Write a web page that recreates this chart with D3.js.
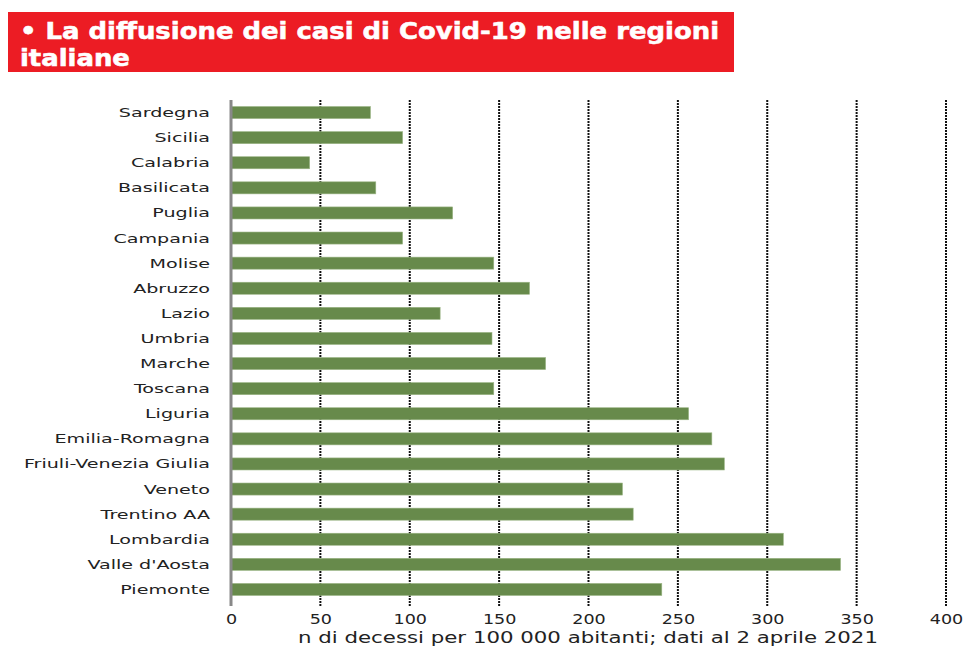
<!DOCTYPE html>
<html>
<head>
<meta charset="utf-8">
<script src="https://cdn.jsdelivr.net/npm/d3@7"></script>
<style>
  body { margin: 0; background: #fff; }
</style>
</head>
<body>
<div id="chart"></div>
<script>
// regioni, dall'alto verso il basso
var regions = ["Sardegna", "Sicilia", "Calabria", "Basilicata", "Puglia", "Campania",
    "Molise", "Abruzzo", "Lazio", "Umbria", "Marche", "Toscana", "Liguria",
    "Emilia-Romagna", "Friuli-Venezia Giulia", "Veneto", "Trentino AA",
    "Lombardia", "Valle d'Aosta", "Piemonte"];
// decessi per 100 000 abitanti
var deaths = [78, 96, 44, 81, 124, 96, 147, 167, 117, 146, 176, 147, 256,
    269, 276, 219, 225, 309, 341, 241];
var xTicks = [0, 50, 100, 150, 200, 250, 300, 350, 400];

var titleLines = ["\u2022 La diffusione dei casi di Covid-19 nelle regioni", "italiane"];
var axisTitle = "n di decessi per 100 000 abitanti; dati al 2 aprile 2021";

var width = 966, height = 650;
var labelFont = "'DejaVu Sans', Verdana, sans-serif";

var svg = d3.select("#chart").append("svg")
    .attr("width", width)
    .attr("height", height);

// title box
svg.append("rect")
    .attr("x", 8).attr("y", 12)
    .attr("width", 726).attr("height", 60)
    .attr("fill", "#ec1c24");

// the original type is a wide-set bold, so the text is stretched a bit
svg.append("g")
    .attr("transform", "translate(20,0) scale(1.28,1)")
    .selectAll("text")
    .data(titleLines)
    .enter().append("text")
    .attr("x", 0)
    .attr("y", function(d, i) { return 39 + i * 27; })
    .attr("fill", "#fff")
    .attr("stroke", "#fff")
    .attr("stroke-width", 0.5)
    .style("font-family", "'DejaVu Sans Condensed', 'DejaVu Sans', sans-serif")
    .style("font-weight", "bold")
    .style("font-size", "22.5px")
    .text(function(d) { return d; });

var x = d3.scaleLinear()
    .domain([0, 400])
    .range([231, 946]);

var y = d3.scaleBand()
    .domain(regions)
    .range([100, 602])
    .paddingInner(0.52)
    .paddingOuter(0.26);

// dotted gridlines
svg.append("g")
    .selectAll("line")
    .data(xTicks.filter(function(d) { return d > 0; }))
    .enter().append("line")
    .attr("x1", function(d) { return x(d); })
    .attr("x2", function(d) { return x(d); })
    .attr("y1", 100)
    .attr("y2", 606)
    .attr("stroke", "#111")
    .attr("stroke-width", 2)
    .attr("stroke-dasharray", "2,1");

// bars
svg.append("g")
    .selectAll("rect")
    .data(deaths)
    .enter().append("rect")
    .attr("x", x(0))
    .attr("y", function(d, i) { return y(regions[i]); })
    .attr("width", function(d) { return x(d) - x(0); })
    .attr("height", y.bandwidth())
    .attr("fill", "#678a4b")
    .attr("stroke", "#9bb585")
    .attr("stroke-width", 0.6);

// y axis line
svg.append("line")
    .attr("x1", x(0)).attr("x2", x(0))
    .attr("y1", 100).attr("y2", 606)
    .attr("stroke", "#888")
    .attr("stroke-width", 3);

// category labels
svg.append("g")
    .attr("transform", "translate(210,0) scale(1.47,1)")
    .selectAll("text")
    .data(regions)
    .enter().append("text")
    .attr("x", 0)
    .attr("y", function(d) { return y(d) + y.bandwidth() / 2; })
    .attr("dy", "0.35em")
    .attr("text-anchor", "end")
    .style("font-family", labelFont)
    .style("font-size", "13px")
    .attr("fill", "#222")
    .text(function(d) { return d; });

// x tick labels
var xAxis = d3.axisBottom(x)
    .tickValues(xTicks)
    .tickSize(0)
    .tickPadding(0);

var gx = svg.append("g")
    .attr("transform", "translate(0,614)")
    .call(xAxis);
gx.select(".domain").remove();
gx.selectAll("text")
    .attr("transform", "scale(1.3,1)")
    .style("font-family", labelFont)
    .style("font-size", "13.5px")
    .attr("fill", "#222");

svg.append("text")
    .attr("transform", "translate(588,643) scale(1.42,1)")
    .attr("text-anchor", "middle")
    .style("font-family", labelFont)
    .style("font-size", "15px")
    .attr("fill", "#222")
    .text(axisTitle);
</script>
</body>
</html>
